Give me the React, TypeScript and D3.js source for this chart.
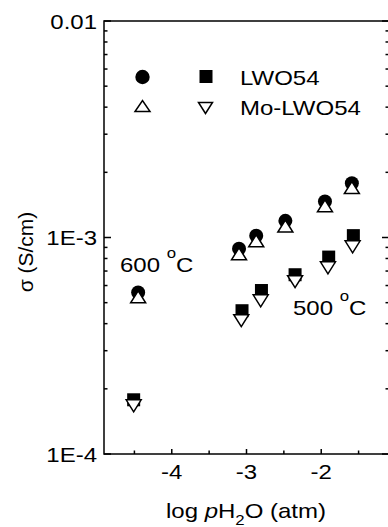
import React from "react";
import * as d3 from "d3";

// ---- data ----
const lwo600X = [-4.45, -3.10, -2.87, -2.48, -1.95, -1.59];
const lwo600Y = [5.57e-4, 8.87e-4, 1.018e-3, 1.194e-3, 1.466e-3, 1.78e-3];
const mo600X = [-4.45, -3.10, -2.87, -2.48, -1.95, -1.59];
const mo600Y = [5.32e-4, 8.41e-4, 9.66e-4, 1.13e-3, 1.40e-3, 1.70e-3];
const lwo500X = [-4.51, -3.06, -2.80, -2.35, -1.90, -1.57];
const lwo500Y = [1.78e-4, 4.59e-4, 5.69e-4, 6.73e-4, 8.12e-4, 1.02e-3];
const mo500X = [-4.51, -3.07, -2.81, -2.35, -1.91, -1.58];
const mo500Y = [1.67e-4, 4.13e-4, 5.10e-4, 6.25e-4, 7.24e-4, 9.06e-4];

const xMajor = [-4, -3, -2];
const xMinor = [-4.5, -3.5, -2.5, -1.5];
const yMajor = [1e-4, 1e-3, 1e-2];
const yMajorLabels = ["1E-4", "1E-3", "0.01"];
const yMinor = [1e-4, 1e-3].flatMap((d) => [2, 3, 4, 5, 6, 7, 8, 9].map((m) => m * d));

const seriesNames = ["LWO54", "Mo-LWO54"];

const FONT = "Arial, 'Liberation Sans', Helvetica, sans-serif";
const SX = 1.2;

function T({ x, y, anchor = "start", size = 20, children }: any) {
  return (
    <text transform={`translate(${x},${y}) scale(${SX},1)`} fontSize={size} textAnchor={anchor}>
      {children}
    </text>
  );
}

export default function App() {
  const W = 388, H = 527;
  const left = 104, right = 389, top = 21, bottom = 454;
  const x = d3.scaleLinear().domain([-4.907, -1.093]).range([left, right]);
  const y = d3.scaleLog().domain([1e-4, 1e-2]).range([bottom, top]);

  const triUp = (cx: number, cy: number, w = 15, h = 12) =>
    `M${cx - w / 2},${cy + h / 2}L${cx + w / 2},${cy + h / 2}L${cx},${cy - h / 2}Z`;
  const triDown = (cx: number, cy: number, w = 15, h = 12) =>
    `M${cx - w / 2},${cy - h / 2}L${cx + w / 2},${cy - h / 2}L${cx},${cy + h / 2}Z`;

  const sw = 1.5;

  return (
    <svg
      width={W}
      height={H}
      style={{ position: "absolute", left: 0, top: 0, background: "#fff" }}
      fontFamily={FONT}
    >
      <rect x={0} y={0} width={W} height={H} fill="#fff" />
      {/* frame */}
      <rect x={left} y={top} width={right - left} height={bottom - top} fill="none" stroke="#000" strokeWidth={sw} />

      {/* x ticks */}
      {xMajor.map((v) => (
        <g key={"xm" + v}>
          <line x1={x(v)} x2={x(v)} y1={bottom} y2={bottom - 5} stroke="#000" strokeWidth={sw} />
          <T x={x(v)} y={479} anchor="middle">{"-" + Math.abs(v)}</T>
        </g>
      ))}
      {xMinor.map((v) => (
        <line key={"xn" + v} x1={x(v)} x2={x(v)} y1={bottom} y2={bottom - 3.5} stroke="#000" strokeWidth={sw} />
      ))}

      {/* y ticks */}
      {yMajor.map((v, i) => (
        <g key={"ym" + v}>
          <line x1={left} x2={left + 7} y1={y(v)} y2={y(v)} stroke="#000" strokeWidth={sw} />
          <line x1={right} x2={right - 7} y1={y(v)} y2={y(v)} stroke="#000" strokeWidth={sw} />
          <T x={97} y={y(v) + 7.5} anchor="end">{yMajorLabels[i]}</T>
        </g>
      ))}
      {yMinor.map((v) => (
        <g key={"yn" + v}>
          <line x1={left} x2={left + 3.5} y1={y(v)} y2={y(v)} stroke="#000" strokeWidth={sw} />
          <line x1={right} x2={right - 3.5} y1={y(v)} y2={y(v)} stroke="#000" strokeWidth={sw} />
        </g>
      ))}

      {/* axis titles */}
      <T x={246} y={518} anchor="middle">
        log <tspan fontStyle="italic">p</tspan>H<tspan fontSize={14} dy={7}>2</tspan>
        <tspan dy={-7}>O (atm)</tspan>
      </T>
      <text transform="translate(33,252) rotate(-90) scale(1.05,1)" fontSize={20} textAnchor="middle">σ (S/cm)</text>

      {/* data */}
      {lwo600X.map((v, i) => (
        <circle key={"c" + i} cx={x(v)} cy={y(lwo600Y[i])} r={7} fill="#000" />
      ))}
      {lwo500X.map((v, i) => (
        <rect key={"s" + i} x={x(v) - 6.5} y={y(lwo500Y[i]) - 6.5} width={13} height={13} fill="#000" />
      ))}
      {mo600X.map((v, i) => (
        <path key={"tu" + i} d={triUp(x(v), y(mo600Y[i]))} fill="#fff" stroke="#000" strokeWidth={sw} />
      ))}
      {mo500X.map((v, i) => (
        <path key={"td" + i} d={triDown(x(v), y(mo500Y[i]))} fill="#fff" stroke="#000" strokeWidth={sw} />
      ))}

      {/* annotations */}
      <T x={120} y={272}>
        600 <tspan fontSize={14} dy={-14}>o</tspan><tspan dy={14}>C</tspan>
      </T>
      <T x={293} y={315}>
        500 <tspan fontSize={14} dy={-14}>o</tspan><tspan dy={14}>C</tspan>
      </T>

      {/* legend */}
      <circle cx={142.5} cy={77} r={7.2} fill="#000" />
      <rect x={199.5} y={70} width={13} height={13} fill="#000" />
      <T x={240} y={85}>{seriesNames[0]}</T>
      <path d={triUp(142.5, 106, 15, 11)} fill="#fff" stroke="#000" strokeWidth={sw} />
      <path d={triDown(205.5, 108, 14, 11)} fill="#fff" stroke="#000" strokeWidth={sw} />
      <T x={240} y={115}>{seriesNames[1]}</T>
    </svg>
  );
}
